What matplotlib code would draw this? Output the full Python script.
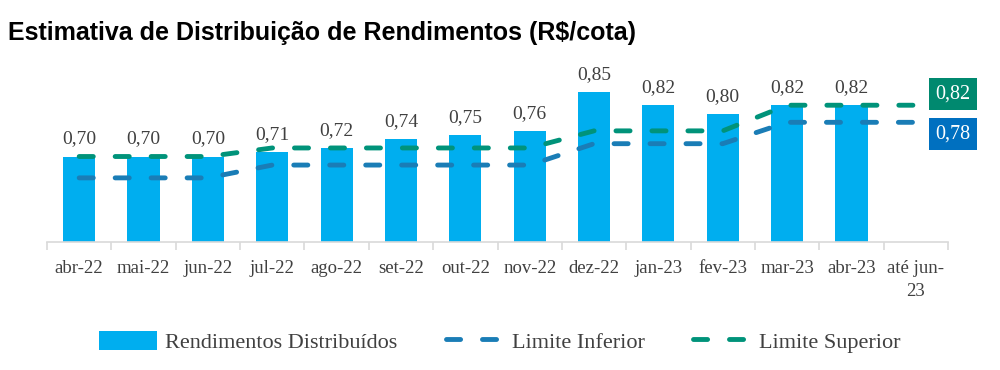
import matplotlib
matplotlib.use('Agg')
import matplotlib.pyplot as plt
import numpy as np

categories = ['abr-22', 'mai-22', 'jun-22', 'jul-22', 'ago-22', 'set-22', 'out-22',
              'nov-22', 'dez-22', 'jan-23', 'fev-23', 'mar-23', 'abr-23', 'até jun-\n23']
rendimentos = [0.70, 0.70, 0.70, 0.71, 0.72, 0.74, 0.75, 0.76, 0.85, 0.82, 0.80, 0.82, 0.82]
limite_inferior = [0.65, 0.65, 0.65, 0.68, 0.68, 0.68, 0.68, 0.68, 0.73, 0.73, 0.73, 0.78, 0.78, 0.78]
limite_superior = [0.70, 0.70, 0.70, 0.72, 0.72, 0.72, 0.72, 0.72, 0.76, 0.76, 0.76, 0.82, 0.82, 0.82]

bar_color = '#00AEEF'
inf_color = '#1A7DB6'
sup_color = '#00937A'
text_color = '#404040'
serif = ['Liberation Serif', 'DejaVu Serif']

def fmt(v):
    return f'{v:.2f}'.replace('.', ',')

fig = plt.figure(figsize=(10, 3.7), dpi=100)
ax = fig.add_axes([0.047, 0.346, 0.901, 0.462])

x = np.arange(len(categories))
xb = x[:len(rendimentos)]
ax.bar(xb, rendimentos, width=0.5, color=bar_color, zorder=2,
       label='Rendimentos Distribuídos')
dash = (0, (2.9, 4.5))
ax.plot(x, limite_inferior, color=inf_color, lw=3.5, ls=dash,
        dash_capstyle='round', zorder=3, label='Limite Inferior')
ax.plot(x, limite_superior, color=sup_color, lw=3.5, ls=dash,
        dash_capstyle='round', zorder=3, label='Limite Superior')

for xi, v in zip(xb, rendimentos):
    ax.annotate(fmt(v), (xi, v), xytext=(0, 6.5), textcoords='offset points',
                ha='center', va='bottom', fontsize=14, color=text_color, family=serif)

# value boxes at the end of the limit lines
ax.annotate(fmt(limite_superior[-1]), (x[-1], limite_superior[-1]),
            xytext=(14, 8), textcoords='offset points', ha='left', va='center',
            fontsize=14.5, color='white', family=serif,
            bbox=dict(boxstyle='square,pad=0.33', fc='#00896F', ec='none'))
ax.annotate(fmt(limite_inferior[-1]), (x[-1], limite_inferior[-1]),
            xytext=(14, -8.5), textcoords='offset points', ha='left', va='center',
            fontsize=14.5, color='white', family=serif,
            bbox=dict(boxstyle='square,pad=0.33', fc='#0070C0', ec='none'))

ax.set_xlim(-0.5, len(categories) - 0.5)
ax.set_ylim(0.5, 0.9)
ax.set_yticks([])
for s in ['top', 'right', 'left']:
    ax.spines[s].set_visible(False)
ax.spines['bottom'].set_color('#D9D9D9')
ax.spines['bottom'].set_linewidth(1.2)

ax.set_xticks(x)
ax.set_xticklabels(categories, family=serif, fontsize=13.5, color=text_color,
                   linespacing=1.45)
ax.tick_params(axis='x', length=0, pad=13)
ax.set_xticks(np.arange(-0.5, len(categories)), minor=True)
ax.tick_params(axis='x', which='minor', length=6, width=1.2, color='#D9D9D9')

fig.text(0.008, 0.91, 'Estimativa de Distribuição de Rendimentos (R$/cota)',
         fontsize=18, fontweight='bold', family='Liberation Sans', color='black',
         va='center')

handles, labels = ax.get_legend_handles_labels()
order = [2, 0, 1]
leg = fig.legend([handles[i] for i in order], [labels[i] for i in order],
                 loc='center', bbox_to_anchor=(0.5, 0.076), ncol=3, frameon=False,
                 prop={'family': serif, 'size': 16}, handlelength=2.6,
                 handleheight=0.95, columnspacing=2.2, handletextpad=0.35)
for t in leg.get_texts():
    t.set_color(text_color)

fig.savefig('out.png', dpi=100)
